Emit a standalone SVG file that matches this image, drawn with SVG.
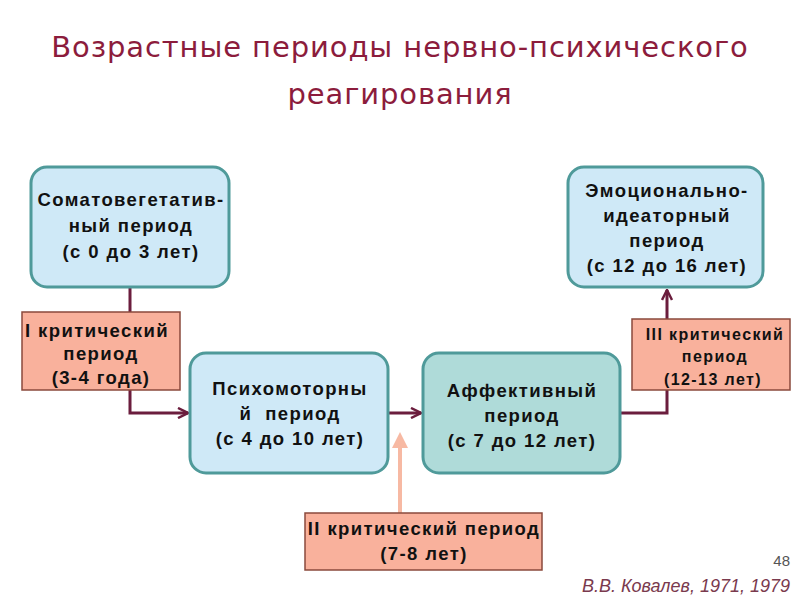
<svg xmlns="http://www.w3.org/2000/svg" width="800" height="600" viewBox="0 0 800 600">
<defs>
<marker id="arr" viewBox="0 0 12 12" refX="11" refY="6" markerWidth="12" markerHeight="12" markerUnits="userSpaceOnUse" orient="auto">
<path d="M1,1 L11,6 L1,11" fill="none" stroke="#6b1d3d" stroke-width="2.5"/>
</marker>
<marker id="arrS" viewBox="0 0 12 12" refX="6" refY="6" markerWidth="16" markerHeight="16" markerUnits="userSpaceOnUse" orient="auto">
<path d="M0,0 L12,6 L0,12 Z" fill="#f7b9a3"/>
</marker>
<style>
.title{font-family:"DejaVu Sans",Verdana,sans-serif;font-size:29px;letter-spacing:0.9px;fill:#8c1c3c;text-anchor:middle}
.node{fill:#cfe9f7;stroke:#4f9a9a;stroke-width:3}
.node2{fill:#afdbd9;stroke:#4f9a9a;stroke-width:3}
.crit{fill:#f9b19c;stroke:#8a4a3c;stroke-width:1.5}
.t{font-family:"Liberation Sans",Arial,sans-serif;font-weight:bold;font-size:18.5px;letter-spacing:1.4px;fill:#111;text-anchor:middle}
.ts{font-family:"Liberation Sans",Arial,sans-serif;font-weight:bold;font-size:16px;letter-spacing:1.4px;fill:#111;text-anchor:middle}
.con{fill:none;stroke:#6b1d3d;stroke-width:3}
</style>
</defs>
<rect width="800" height="600" fill="#ffffff"/>
<text class="title" x="400" y="57">Возрастные периоды нервно-психического</text>
<text class="title" x="400" y="104">реагирования</text>

<g id="connectors">
<path class="con" d="M130,287 V312"/>
<path class="con" d="M130,390 V413 H188" marker-end="url(#arr)"/>
<path class="con" d="M388,413 H421" marker-end="url(#arr)"/>
<path class="con" d="M620,413 H667 V390"/>
<path class="con" d="M667,319 V290" marker-end="url(#arr)"/>
<path d="M400,513 V440" fill="none" stroke="#f7b9a3" stroke-width="4" marker-end="url(#arrS)"/>
</g>

<g id="n1">
<rect class="node" x="31" y="167" width="198" height="120" rx="16"/>
<text class="t" x="131" y="206">Соматовегетатив-</text>
<text class="t" x="131" y="232">ный период</text>
<text class="t" x="131" y="258">(с 0 до 3 лет)</text>
</g>
<g id="c1">
<rect class="crit" x="22" y="312" width="158" height="78"/>
<text class="t" x="97" y="337">I критический</text>
<text class="t" x="101" y="360">период</text>
<text class="t" x="101" y="384">(3-4 года)</text>
</g>
<g id="n2">
<rect class="node" x="190" y="353" width="198" height="120" rx="16"/>
<text class="t" x="290" y="395">Психомоторны</text>
<text class="t" x="290" y="420" xml:space="preserve">й  период</text>
<text class="t" x="290" y="445">(с 4 до 10 лет)</text>
</g>
<g id="n3">
<rect class="node2" x="423" y="353" width="197" height="120" rx="16"/>
<text class="t" x="522" y="397">Аффективный</text>
<text class="t" x="522" y="422">период</text>
<text class="t" x="522" y="447">(с 7 до 12 лет)</text>
</g>
<g id="c3">
<rect class="crit" x="632" y="319" width="158" height="71"/>
<text class="ts" x="715" y="340">III критический</text>
<text class="ts" x="715" y="362">период</text>
<text class="ts" x="713" y="385">(12-13 лет)</text>
</g>
<g id="n4">
<rect class="node" x="568" y="167" width="195" height="120" rx="16"/>
<text class="t" x="667" y="197">Эмоционально-</text>
<text class="t" x="667" y="222">идеаторный</text>
<text class="t" x="667" y="247">период</text>
<text class="t" x="667" y="272">(с 12 до 16 лет)</text>
</g>
<g id="c2">
<rect class="crit" x="305" y="513" width="237" height="57"/>
<text class="t" x="424" y="535">II критический период</text>
<text class="t" x="424" y="560">(7-8 лет)</text>
</g>
<text x="790" y="566" font-family="Liberation Sans,Arial,sans-serif" font-size="15" fill="#555" text-anchor="end">48</text>
<text x="790" y="592" font-family="Liberation Sans,Arial,sans-serif" font-size="18" font-style="italic" fill="#7a3a4e" text-anchor="end">В.В. Ковалев, 1971, 1979</text>
</svg>
